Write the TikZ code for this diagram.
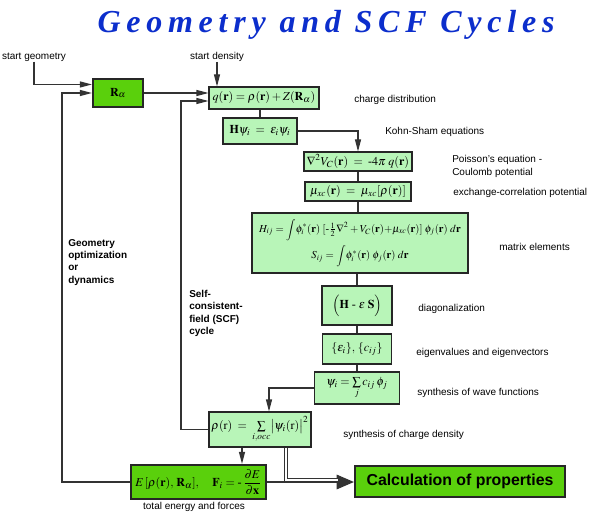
\documentclass[tikz,border=0pt]{standalone}
\usepackage{amsmath}
\usepackage{mathptmx}
\usepackage{fontspec}
\setmainfont{Liberation Serif}
\setsansfont{Liberation Sans}
\newfontfamily\titlefont[LetterSpace=18]{Liberation Serif}
\usepackage{xcolor}
\usepackage{tikz}
\usetikzlibrary{arrows.meta}

\definecolor{darkgr}{RGB}{90,208,12}
\definecolor{lightgr}{RGB}{184,245,184}
\definecolor{titleblue}{RGB}{12,46,204}
\newcommand\notesize{\sffamily\fontsize{7.5}{9.2}\selectfont}
\newcommand\eqsize{\fontsize{9}{11}\selectfont}

\begin{document}
\begin{tikzpicture}[x=0.75pt,y=-0.75pt,
  >={Triangle[length=9pt,width=4.5pt]},
  line/.style={draw=black!80,line width=0.8pt},
  lightbox/.style={draw=black!85,line width=0.8pt,fill=lightgr,inner sep=0pt,font=\eqsize,align=center},
  heavybox/.style={lightbox,line width=1.6pt},
  darkbox/.style={heavybox,fill=darkgr},
  note/.style={font=\notesize,anchor=west,inner sep=0pt,align=left},
  loopnote/.style={font=\notesize\bfseries,anchor=north west,align=left,inner sep=0pt}]
\useasboundingbox (0,0) rectangle (593,517);

\node[font=\titlefont\bfseries\itshape\fontsize{24}{28}\selectfont,text=titleblue,anchor=base] (title) at (326,33) {Geometry and SCF Cycles};

\node[darkbox,minimum width=37.5pt,minimum height=21pt] (Ra) at (118,93) {$\mathbf{R}_\alpha$};
\node[lightbox,minimum width=82.5pt,minimum height=16.5pt] (q) at (264,98) {$q(\mathbf{r}) = \rho(\mathbf{r}) + Z(\mathbf{R}_\alpha)$};
\node[heavybox,minimum width=55.5pt,minimum height=19.5pt] (H) at (260,131) {$\mathbf{H}\psi_i \;=\; \varepsilon_i\psi_i$};
\node[lightbox,minimum width=81pt,minimum height=14.25pt] (nabla) at (358,161.5) {$\nabla^2 V_C(\mathbf{r}) \;=\; \text{-}4\pi\; q(\mathbf{r})$};
\node[lightbox,minimum width=79.5pt,minimum height=14.25pt] (mu) at (358,191.5) {$\mu_{xc}(\mathbf{r}) \;=\; \mu_{xc}[\rho(\mathbf{r})]$};
\node[lightbox,minimum width=162pt,minimum height=45pt,font=\fontsize{8}{10}\selectfont] (matrix) at (360,243) {$H_{ij} = \displaystyle\int\!\phi_i^*(\mathbf{r})\;[\text{-}\tfrac{1}{2}\nabla^2 + V_C(\mathbf{r}){+}\mu_{xc}(\mathbf{r})]\;\phi_j(\mathbf{r})\;d\mathbf{r}$\\[3pt]
  $S_{ij} = \displaystyle\int\!\phi_i^*(\mathbf{r})\;\phi_j(\mathbf{r})\;d\mathbf{r}$};
\node[lightbox,minimum width=52.5pt,minimum height=29.25pt] (diag) at (357,305.5) {$\Bigl(\mathbf{H}\text{ - }\varepsilon\;\mathbf{S}\Bigr)$};
\node[lightbox,minimum width=51.75pt,minimum height=22.5pt] (eig) at (357,349) {$\{\varepsilon_i\},\,\{c_{ij}\}$};
\node[lightbox,minimum width=63.75pt,minimum height=24pt] (psi) at (357,388) {$\psi_i = \sum\limits_j c_{ij}\,\phi_j$};
\node[lightbox,minimum width=76.5pt,minimum height=26.25pt] (rho) at (260,429.5) {$\rho(\mathrm{r}) \;=\; \sum\limits_{i,occ}\bigl|\psi_i(\mathrm{r})\bigr|^2$};
\node[darkbox,minimum width=101.25pt,minimum height=25.5pt] (E) at (198.5,482) {$E\,[\rho(\mathbf{r}),\,\mathbf{R}_\alpha],\quad \mathbf{F}_i = \text{-}\,\dfrac{\partial E}{\partial\mathbf{x}}$};
\node[darkbox,minimum width=157.5pt,minimum height=23.25pt,font=\sffamily\bfseries\fontsize{11.9}{14}\selectfont] (calc) at (460,481.5) {Calculation of properties};

\node[font=\notesize,inner sep=0pt] (sg) at (34,57) {start geometry};
\node[font=\notesize,inner sep=0pt] (sd) at (217,57) {start density};
\node[note] (nq) at (354,100) {charge distribution};
\node[note] (nks) at (385,132) {Kohn-Sham equations};
\node[note] (npo) at (452,166.5) {Poisson's equation -\\Coulomb potential};
\node[note] (nxc) at (453,193) {exchange-correlation potential};
\node[note] (nmat) at (499,247) {matrix elements};
\node[note] (ndiag) at (418,309) {diagonalization};
\node[note] (neig) at (416,353) {eigenvalues and eigenvectors};
\node[note] (npsi) at (417,393) {synthesis of wave functions};
\node[note] (nrho) at (343,435) {synthesis of charge density};
\node[font=\notesize,inner sep=0pt] (nE) at (194,507) {total energy and forces};
\node[loopnote] (ngeo) at (68,239) {Geometry\\optimization\\or\\dynamics};
\node[loopnote] (nscf) at (189,290) {Self-\\consistent-\\field (SCF)\\cycle};

\coordinate (geo) at (62,93);
\coordinate (scf) at (181,101);

\draw[line,->] (sg.south) |- ([yshift=6.4pt]Ra.west);
\draw[line,->] (sd.south) -- (sd.south |- q.north);
\draw[line,->] (Ra.east) -- (Ra.east -| q.west);
\draw[line,->] (E.west) -| (geo) -- (Ra.west);
\draw[line,->] (rho.west) -| (scf) -- (scf -| q.west);
\draw[line] (H.north) -- (H.north |- q.south);
\draw[line,->] (H.east) -| (nabla.north);
\draw[line] (nabla.south) -- (mu.north);
\draw[line] (mu.south) -- (mu.south |- matrix.north);
\draw[line] (diag.north |- matrix.south) -- (diag.north);
\draw[line] (diag.south) -- (eig.north);
\draw[line] (eig.south) -- (psi.north);
\draw[line,->] (psi.west) -| ([xshift=6.75pt]rho.north);
\draw[line,->] ([xshift=-13.5pt]rho.south) -- ([xshift=-13.5pt]rho.south |- E.north);
\draw[line,-{Triangle[length=13pt,width=11pt]}] (E.east) -- (E.east -| calc.west);
\draw[draw=black!80,line width=0.6pt,double=white,double distance=1.2pt] ([xshift=19.5pt]rho.south) |- ([xshift=-12pt,yshift=1.3pt]calc.west);
\end{tikzpicture}
\end{document}
